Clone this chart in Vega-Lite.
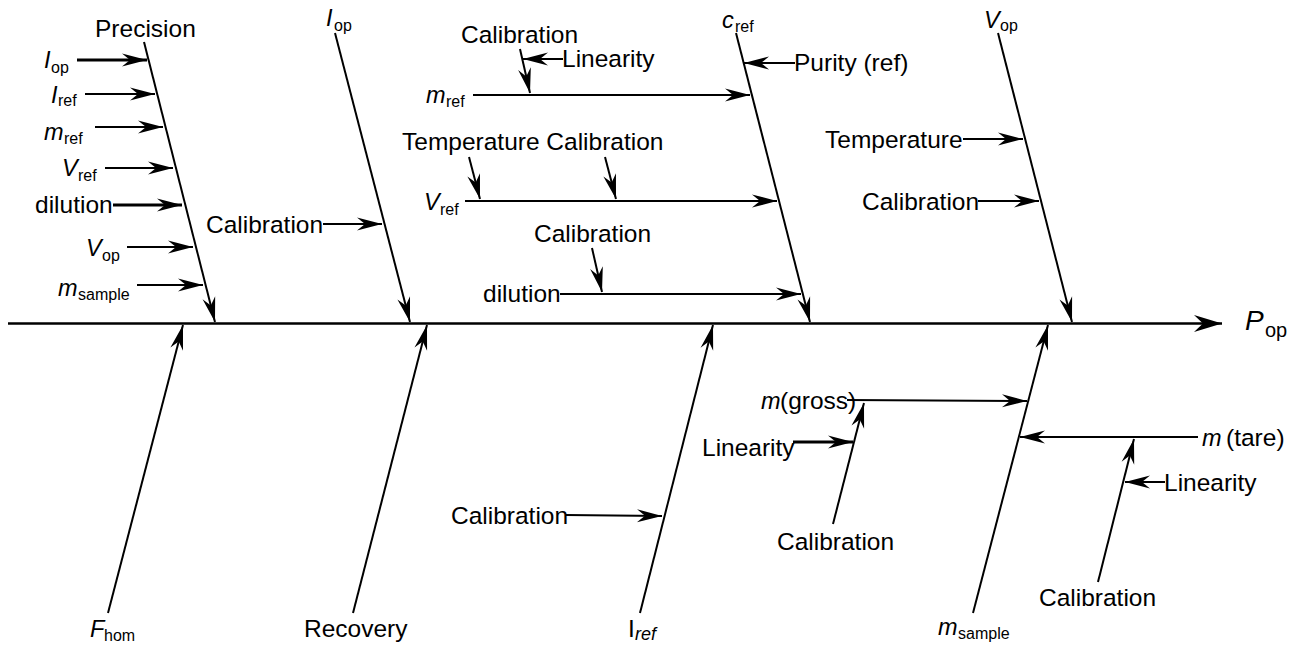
{
  "$schema": "https://vega.github.io/schema/vega-lite/v6.json",
  "width": 1300,
  "height": 648,
  "autosize": {"type": "fit", "contains": "padding"},
  "padding": 0,
  "background": "white",
  "config": {"view": {"stroke": null}},
  "datasets": {
    "spine": [{"x": 8, "y": 323.5, "x2": 1222, "y2": 323.5}],
    "branches": [
      {"x": 144, "y": 42, "x2": 215, "y2": 322},
      {"x": 335, "y": 33, "x2": 410, "y2": 322},
      {"x": 736, "y": 33, "x2": 810, "y2": 322},
      {"x": 998, "y": 33, "x2": 1072, "y2": 322},
      {"x": 108, "y": 613, "x2": 183, "y2": 325},
      {"x": 353, "y": 613, "x2": 427, "y2": 325},
      {"x": 640, "y": 613, "x2": 713, "y2": 325},
      {"x": 973, "y": 613, "x2": 1048, "y2": 325},
      {"x": 85, "y": 94, "x2": 155, "y2": 94},
      {"x": 95, "y": 127, "x2": 163, "y2": 127},
      {"x": 105, "y": 168, "x2": 173, "y2": 168},
      {"x": 127, "y": 247, "x2": 193, "y2": 247},
      {"x": 137, "y": 285, "x2": 203, "y2": 285},
      {"x": 323, "y": 224, "x2": 382, "y2": 224},
      {"x": 795, "y": 63, "x2": 744, "y2": 63},
      {"x": 473, "y": 95, "x2": 750, "y2": 95},
      {"x": 520, "y": 49, "x2": 530, "y2": 93},
      {"x": 563, "y": 59, "x2": 523, "y2": 59},
      {"x": 465, "y": 201, "x2": 777, "y2": 201},
      {"x": 469, "y": 157, "x2": 480, "y2": 199},
      {"x": 605, "y": 157, "x2": 616, "y2": 199},
      {"x": 560, "y": 294, "x2": 801, "y2": 294},
      {"x": 592, "y": 248, "x2": 602, "y2": 292},
      {"x": 963, "y": 139, "x2": 1023, "y2": 139},
      {"x": 978, "y": 201, "x2": 1039, "y2": 201},
      {"x": 566, "y": 515, "x2": 662, "y2": 516},
      {"x": 847, "y": 400, "x2": 1027, "y2": 401},
      {"x": 833, "y": 524, "x2": 864, "y2": 403},
      {"x": 1198, "y": 437, "x2": 1020, "y2": 437},
      {"x": 1098, "y": 582, "x2": 1134, "y2": 439},
      {"x": 1165, "y": 482, "x2": 1125, "y2": 482}
    ],
    "bold": [
      {"x": 77, "y": 60, "x2": 147, "y2": 60},
      {"x": 113, "y": 205, "x2": 182, "y2": 205},
      {"x": 793, "y": 442, "x2": 853, "y2": 442}
    ],
    "labels": [
      {"text": "Precision", "x": 95, "y": 37},
      {"text": "Calibration", "x": 206, "y": 233},
      {"text": "Calibration", "x": 461, "y": 43},
      {"text": "Linearity", "x": 562, "y": 67},
      {"text": "Purity (ref)", "x": 794, "y": 71},
      {"text": "Temperature Calibration", "x": 402, "y": 150},
      {"text": "Calibration", "x": 534, "y": 242},
      {"text": "dilution", "x": 483, "y": 302},
      {"text": "dilution", "x": 35, "y": 213},
      {"text": "Temperature", "x": 825, "y": 148},
      {"text": "Calibration", "x": 862, "y": 210},
      {"text": "Recovery", "x": 304, "y": 637},
      {"text": "Calibration", "x": 451, "y": 524},
      {"text": "Linearity", "x": 702, "y": 456},
      {"text": "Calibration", "x": 777, "y": 550},
      {"text": "Calibration", "x": 1039, "y": 606},
      {"text": "Linearity", "x": 1164, "y": 491},
      {"text": "(gross)", "x": 780, "y": 409},
      {"text": "(tare)", "x": 1226, "y": 446},
      {"text": "I", "x": 628, "y": 637}
    ],
    "symbols": [
      {"text": "I", "x": 44, "y": 68},
      {"text": "I", "x": 51, "y": 103},
      {"text": "m", "x": 44, "y": 140},
      {"text": "V", "x": 62, "y": 176},
      {"text": "V", "x": 86, "y": 256},
      {"text": "m", "x": 58, "y": 296},
      {"text": "I", "x": 326, "y": 26},
      {"text": "c", "x": 722, "y": 28},
      {"text": "V", "x": 984, "y": 28},
      {"text": "m", "x": 426, "y": 103},
      {"text": "V", "x": 424, "y": 210},
      {"text": "F", "x": 90, "y": 637},
      {"text": "m", "x": 938, "y": 635},
      {"text": "m", "x": 761, "y": 409},
      {"text": "m", "x": 1202, "y": 446}
    ],
    "subs": [
      {"text": "op", "x": 51, "y": 73},
      {"text": "ref", "x": 58, "y": 106},
      {"text": "ref", "x": 64, "y": 144},
      {"text": "ref", "x": 78, "y": 181},
      {"text": "op", "x": 102, "y": 261},
      {"text": "sample", "x": 78, "y": 300},
      {"text": "op", "x": 334, "y": 31},
      {"text": "ref", "x": 735, "y": 32},
      {"text": "op", "x": 1000, "y": 31},
      {"text": "ref", "x": 446, "y": 107},
      {"text": "ref", "x": 440, "y": 215},
      {"text": "hom", "x": 104, "y": 641},
      {"text": "sample", "x": 958, "y": 639}
    ],
    "italicsubs": [{"text": "ref", "x": 635, "y": 640}],
    "output": [{"text": "P", "x": 1245, "y": 330}],
    "outputsub": [{"text": "op", "x": 1265, "y": 337}]
  },
  "layer": [
    {
      "data": {"name": "spine"},
      "mark": {"type": "rule", "strokeWidth": 2.5, "color": "black"},
      "encoding": {
        "x": {"field": "x", "type": "quantitative", "scale": {"domain": [0, 1300], "nice": false, "zero": false}, "axis": null},
        "y": {"field": "y", "type": "quantitative", "scale": {"domain": [0, 648], "reverse": true, "nice": false, "zero": false}, "axis": null},
        "x2": {"field": "x2"},
        "y2": {"field": "y2"}
      }
    },
    {
      "data": {"name": "branches"},
      "mark": {"type": "rule", "strokeWidth": 2, "color": "black"},
      "encoding": {
        "x": {"field": "x", "type": "quantitative", "axis": null},
        "y": {"field": "y", "type": "quantitative", "axis": null},
        "x2": {"field": "x2"},
        "y2": {"field": "y2"}
      }
    },
    {
      "data": {"name": "bold"},
      "mark": {"type": "rule", "strokeWidth": 3, "color": "black"},
      "encoding": {
        "x": {"field": "x", "type": "quantitative", "axis": null},
        "y": {"field": "y", "type": "quantitative", "axis": null},
        "x2": {"field": "x2"},
        "y2": {"field": "y2"}
      }
    },
    {
      "data": {"name": "spine"},
      "transform": [{"calculate": "atan2(datum.y2 - datum.y, datum.x2 - datum.x) * 180 / PI", "as": "ang"}],
      "mark": {"type": "point", "shape": "M0,0L-1,-0.3L-0.68,0L-1,0.3Z", "filled": true, "color": "black", "opacity": 1, "size": 3136, "strokeWidth": 0},
      "encoding": {
        "x": {"field": "x2", "type": "quantitative", "axis": null},
        "y": {"field": "y2", "type": "quantitative", "axis": null},
        "angle": {"field": "ang", "type": "quantitative", "scale": null}
      }
    },
    {
      "data": {"name": "branches"},
      "transform": [{"calculate": "atan2(datum.y2 - datum.y, datum.x2 - datum.x) * 180 / PI", "as": "ang"}],
      "mark": {"type": "point", "shape": "M0,0L-1,-0.26L-0.68,0L-1,0.26Z", "filled": true, "color": "black", "opacity": 1, "size": 2500, "strokeWidth": 0},
      "encoding": {
        "x": {"field": "x2", "type": "quantitative", "axis": null},
        "y": {"field": "y2", "type": "quantitative", "axis": null},
        "angle": {"field": "ang", "type": "quantitative", "scale": null}
      }
    },
    {
      "data": {"name": "bold"},
      "transform": [{"calculate": "atan2(datum.y2 - datum.y, datum.x2 - datum.x) * 180 / PI", "as": "ang"}],
      "mark": {"type": "point", "shape": "M0,0L-1,-0.26L-0.68,0L-1,0.26Z", "filled": true, "color": "black", "opacity": 1, "size": 2500, "strokeWidth": 0},
      "encoding": {
        "x": {"field": "x2", "type": "quantitative", "axis": null},
        "y": {"field": "y2", "type": "quantitative", "axis": null},
        "angle": {"field": "ang", "type": "quantitative", "scale": null}
      }
    },
    {
      "data": {"name": "labels"},
      "mark": {"type": "text", "align": "left", "baseline": "alphabetic", "font": "Liberation Sans", "fontSize": 24.5, "color": "black"},
      "encoding": {
        "x": {"field": "x", "type": "quantitative", "axis": null},
        "y": {"field": "y", "type": "quantitative", "axis": null},
        "text": {"field": "text"}
      }
    },
    {
      "data": {"name": "symbols"},
      "mark": {"type": "text", "align": "left", "baseline": "alphabetic", "font": "Liberation Sans", "fontStyle": "italic", "fontSize": 23.5, "color": "black"},
      "encoding": {
        "x": {"field": "x", "type": "quantitative", "axis": null},
        "y": {"field": "y", "type": "quantitative", "axis": null},
        "text": {"field": "text"}
      }
    },
    {
      "data": {"name": "subs"},
      "mark": {"type": "text", "align": "left", "baseline": "alphabetic", "font": "Liberation Sans", "fontSize": 16, "color": "black"},
      "encoding": {
        "x": {"field": "x", "type": "quantitative", "axis": null},
        "y": {"field": "y", "type": "quantitative", "axis": null},
        "text": {"field": "text"}
      }
    },
    {
      "data": {"name": "italicsubs"},
      "mark": {"type": "text", "align": "left", "baseline": "alphabetic", "font": "Liberation Sans", "fontStyle": "italic", "fontSize": 18, "color": "black"},
      "encoding": {
        "x": {"field": "x", "type": "quantitative", "axis": null},
        "y": {"field": "y", "type": "quantitative", "axis": null},
        "text": {"field": "text"}
      }
    },
    {
      "data": {"name": "output"},
      "mark": {"type": "text", "align": "left", "baseline": "alphabetic", "font": "Liberation Sans", "fontStyle": "italic", "fontSize": 28, "color": "black"},
      "encoding": {
        "x": {"field": "x", "type": "quantitative", "axis": null},
        "y": {"field": "y", "type": "quantitative", "axis": null},
        "text": {"field": "text"}
      }
    },
    {
      "data": {"name": "outputsub"},
      "mark": {"type": "text", "align": "left", "baseline": "alphabetic", "font": "Liberation Sans", "fontSize": 20, "color": "black"},
      "encoding": {
        "x": {"field": "x", "type": "quantitative", "axis": null},
        "y": {"field": "y", "type": "quantitative", "axis": null},
        "text": {"field": "text"}
      }
    }
  ]
}
